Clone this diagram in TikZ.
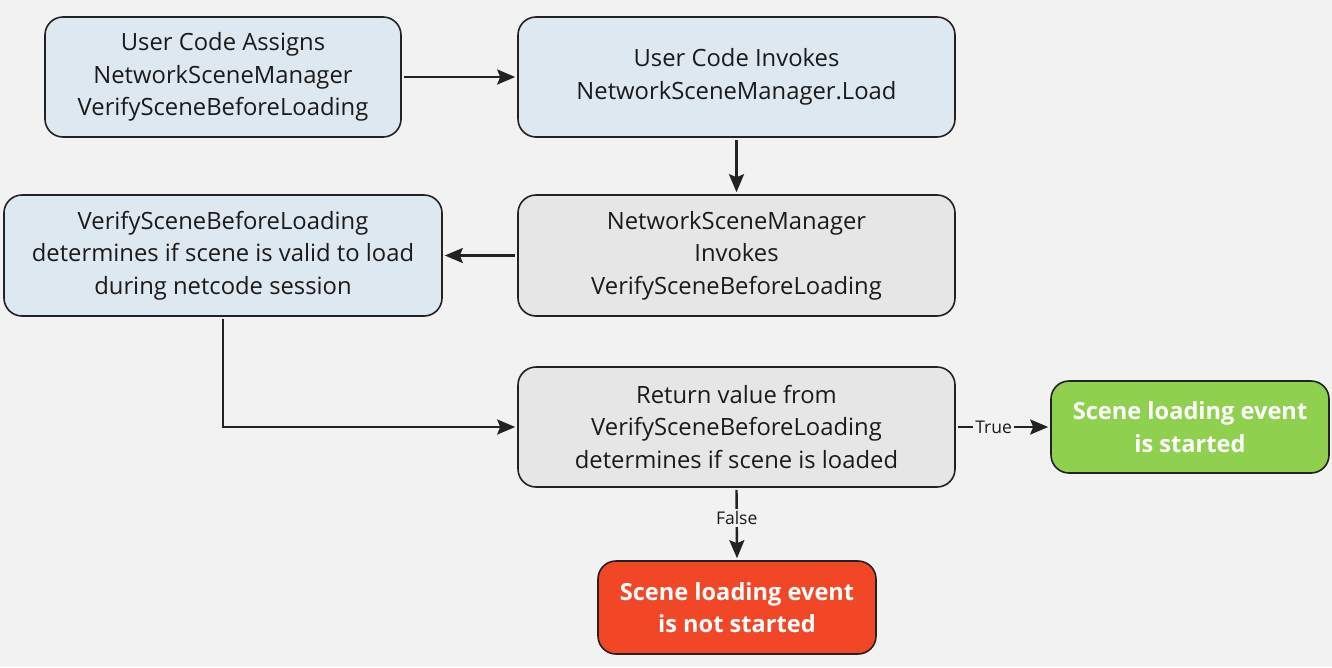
\documentclass[tikz,border=0pt]{standalone}
\usepackage{fontspec}
\setmainfont{Open Sans}
\usetikzlibrary{arrows.meta}
\definecolor{bgc}{HTML}{F2F2F2}
\definecolor{bluef}{HTML}{DEE8F1}
\definecolor{grayf}{HTML}{E6E6E6}
\definecolor{greenf}{HTML}{8FD14F}
\definecolor{redf}{HTML}{F24726}
\definecolor{edgec}{HTML}{222222}
\definecolor{txt}{HTML}{1A1A1A}
\tikzset{
  box/.style={draw=edgec, line width=1.6pt, rounded corners=18pt, align=center,
    text=txt, font=\fontsize{23.8}{32.5}\selectfont, inner sep=0pt},
  bluebox/.style={box, fill=bluef},
  graybox/.style={box, fill=grayf},
  endbox/.style={box, text=white, font=\fontsize{23.6}{32.5}\selectfont\bfseries},
  conn/.style={draw=edgec, line width=2.4pt, -{Stealth[length=18pt,width=15pt,inset=3pt]},
    shorten <=2pt, shorten >=2pt},
  lbl/.style={fill=bgc, text=txt, font=\fontsize{17.5}{19}\selectfont, inner sep=2pt}
}
\begin{document}
\begin{tikzpicture}[x=1pt,y=-1pt]
\path[fill=bgc, use as bounding box] (0,0) rectangle (1332,667);
\node[bluebox, minimum width=356pt, minimum height=120pt] (A) at (223,77)
  {User Code Assigns\\NetworkSceneManager\\VerifySceneBeforeLoading};
\node[bluebox, minimum width=437pt, minimum height=120pt] (B) at (736.5,77)
  {User Code Invokes\\NetworkSceneManager.Load};
\node[bluebox, minimum width=438pt, minimum height=121pt] (C) at (223,255.5)
  {VerifySceneBeforeLoading\\determines if scene is valid to load\\during netcode session};
\node[graybox, minimum width=437pt, minimum height=121pt] (D) at (736.5,255.5)
  {NetworkSceneManager\\Invokes\\VerifySceneBeforeLoading};
\node[graybox, minimum width=437pt, minimum height=120pt] (E) at (736.5,427)
  {Return value from\\VerifySceneBeforeLoading\\determines if scene is loaded};
\node[endbox, fill=greenf, minimum width=278pt, minimum height=92pt] (F) at (1190,427)
  {Scene loading event\\is started};
\node[endbox, fill=redf, minimum width=278pt, minimum height=93pt] (G) at (737,607.5)
  {Scene loading event\\is not started};
\draw[conn] (A) -- (B);
\draw[conn] (B) -- (D);
\draw[conn] (D) -- (C);
\draw[conn] (C.south) |- (E.west);
\draw[conn] (E) -- node[lbl, pos=0.4] {True} (F);
\draw[conn] (E.south) -- node[lbl, pos=0.42] {False} (G.north);
\end{tikzpicture}
\end{document}
